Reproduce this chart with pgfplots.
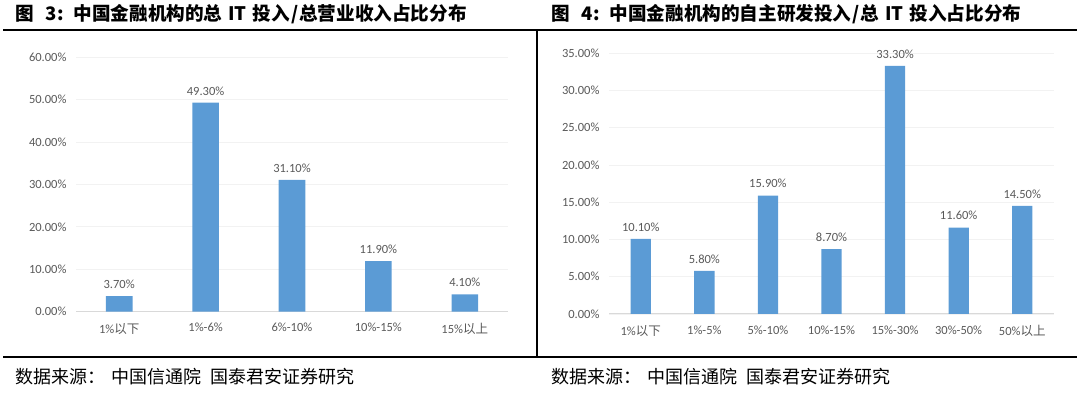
\documentclass[border=0pt]{standalone}
\usepackage{pgfplots}
\pgfplotsset{compat=1.18}
\usepackage{fontspec}
\setmainfont{Carlito}
\newfontfamily\cjk{Noto Sans CJK SC}
\definecolor{barblue}{HTML}{5B9BD5}
\definecolor{txtgray}{HTML}{595959}
\definecolor{axgray}{HTML}{D9D9D9}
\definecolor{gridc}{HTML}{F2F2F2}
\pgfplotsset{
 mybar/.style={
  scale only axis, anchor=south west,
  ymin=0, axis lines=left, axis line style={-},
  y axis line style={draw=none},
  x axis line style={draw=axgray, line width=1bp},
  major tick length=0pt,
  ymajorgrids, grid style={draw=gridc, line width=0.8bp},
  xtick=data,
  ticklabel style={font=\fontsize{12.5bp}{14bp}\selectfont, text=txtgray},
  /pgf/number format/assume math mode=true,
  yticklabel={\pgfmathprintnumber[fixed,fixed zerofill,precision=2]{\tick}\%},
  yticklabel style={xshift=-6bp},
  xticklabel style={yshift=-8bp},
  ybar, bar shift=0pt,
  nodes near coords={\pgfmathprintnumber[fixed,fixed zerofill,precision=2]{\pgfplotspointmeta}\%},
  nodes near coords style={font=\fontsize{12.5bp}{14bp}\selectfont, text=txtgray, anchor=south, yshift=4bp},
  clip=false,
 }
}
\newcommand\gap[1]{\hspace{#1bp}}
\begin{document}
\begin{tikzpicture}
\useasboundingbox (0,0) rectangle (1080bp,394bp);
\draw[line width=1.5bp] (3bp,364bp) -- (1077bp,364bp);
\draw[line width=1.5bp] (3bp,37bp) -- (1077bp,37bp);
\draw[line width=1.5bp] (537bp,364bp) -- (537bp,37bp);
\node[anchor=west, inner sep=0pt, font=\cjk\bfseries\fontsize{18.6bp}{20bp}\selectfont] at (15bp,379.5bp) {图\gap{12}3:\gap{10}中国金融机构的总\gap{6}IT\gap{6}投入\gap{1}/\gap{1}总营业收入占比分布};
\node[anchor=west, inner sep=0pt, font=\cjk\bfseries\fontsize{18.6bp}{20bp}\selectfont] at (551bp,379.5bp) {图\gap{12}4:\gap{10}中国金融机构的自主研发投入\gap{1}/\gap{1}总\gap{6}IT\gap{6}投入占比分布};
\node[anchor=west, inner sep=0pt, font=\cjk\fontsize{18bp}{20bp}\selectfont] at (15bp,17bp) {数据来源：\gap{6}中国信通院\gap{9}国泰君安证券研究};
\node[anchor=west, inner sep=0pt, font=\cjk\fontsize{18bp}{20bp}\selectfont] at (551bp,17bp) {数据来源：\gap{6}中国信通院\gap{9}国泰君安证券研究};
\begin{axis}[mybar, at={(76bp,82.3bp)}, width=432bp, height=254.4bp,
  xmin=-0.5, xmax=4.5, ymax=60, ytick={0,10,...,60}, bar width=26.6bp,
  xticklabels={1\%{\cjk 以下}, 1\%-6\%, 6\%-10\%, 10\%-15\%, 15\%{\cjk 以上}}]
\addplot[fill=barblue, draw=none] coordinates {(0,3.7)(1,49.3)(2,31.1)(3,11.9)(4,4.1)};
\end{axis}
\begin{axis}[mybar, at={(609bp,80bp)}, width=445bp, height=260.7bp,
  xmin=-0.5, xmax=6.5, ymax=35, ytick={0,5,...,35}, bar width=20.3bp,
  xticklabels={1\%{\cjk 以下}, 1\%-5\%, 5\%-10\%, 10\%-15\%, 15\%-30\%, 30\%-50\%, 50\%{\cjk 以上}}]
\addplot[fill=barblue, draw=none] coordinates {(0,10.1)(1,5.8)(2,15.9)(3,8.7)(4,33.3)(5,11.6)(6,14.5)};
\end{axis}
\end{tikzpicture}
\end{document}
